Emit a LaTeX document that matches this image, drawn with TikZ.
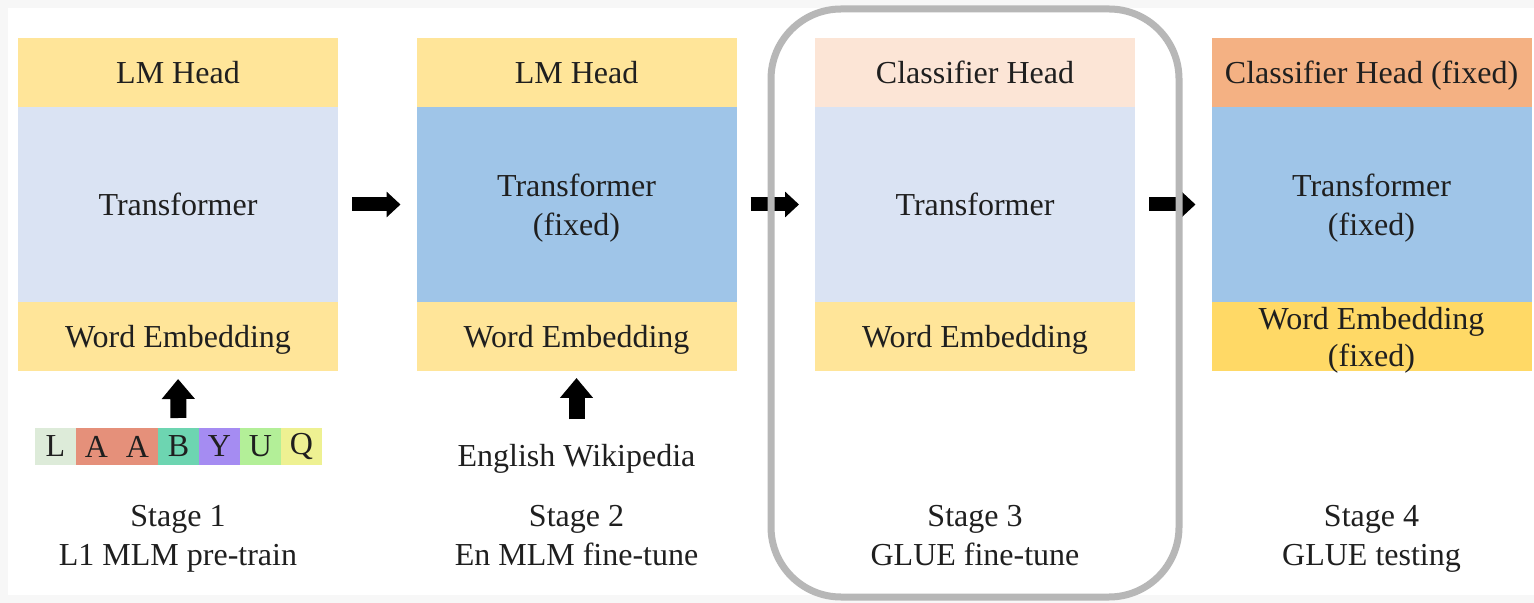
\documentclass[tikz,border=0pt]{standalone}
\usepackage{fontspec}
\setmainfont{Liberation Serif}
\usetikzlibrary{arrows.meta,positioning}
\definecolor{lmyellow}{HTML}{FFE599}
\definecolor{fixyellow}{HTML}{FFD966}
\definecolor{tfblue}{HTML}{DAE3F3}
\definecolor{fixblue}{HTML}{9FC5E8}
\definecolor{clsorange}{HTML}{FCE5D6}
\definecolor{fixorange}{HTML}{F4B183}
\definecolor{framegray}{HTML}{B7B7B7}
\definecolor{tokL}{HTML}{DDEBD9}
\definecolor{tokA}{HTML}{E5907A}
\definecolor{tokB}{HTML}{6DD5B1}
\definecolor{tokY}{HTML}{A58CF2}
\definecolor{tokU}{HTML}{B3EF98}
\definecolor{tokQ}{HTML}{EEF192}
\tikzset{
  txt/.style={font=\fontsize{16}{19.5}\selectfont, text=black!88},
  blk/.style={txt, minimum width=160pt, inner sep=0pt, outer sep=0pt, align=center,
    text depth=0pt},
  headblk/.style={blk, minimum height=34.5pt},
  tfblk/.style={blk, minimum height=97.5pt},
  embblk/.style={blk, minimum height=34.5pt},
  tok/.style={txt, minimum width=20.5pt, minimum height=18.5pt, inner sep=0pt, outer sep=0pt},
  flow/.style={line width=7pt, -{Triangle[length=7pt, width=12.5pt]},
    shorten <=7pt, shorten >=8pt},
  feed/.style={line width=8pt, -{Triangle[length=10pt, width=16pt]}},
  stagelbl/.style={txt, align=center, inner sep=0pt, text depth=0pt},
  stageframe/.style={framegray, line width=3.5pt, rounded corners=35pt},
}
\begin{document}
\begin{tikzpicture}[x=0.5pt, y=-0.5pt]
\useasboundingbox (0,0) rectangle (1534,603);
\fill[black!3] (0,0) rectangle (1534,603);
\fill[white] (8,8) rectangle (1534,595);

% ------------------------------------------------------------------ stage 1
\node[headblk, fill=lmyellow] (h1) at (178,72.5) {LM Head};
\node[tfblk, fill=tfblue, below=0pt of h1] (t1) {Transformer};
\node[embblk, fill=lmyellow, below=0pt of t1] (e1) {Word Embedding};
\node[tok, fill=tokL] (k1) at (55.5,446.5) {L};
\node[tok, fill=tokA, right=0pt of k1] (k2) {A};
\node[tok, fill=tokA, right=0pt of k2] (k3) {A};
\node[tok, fill=tokB, right=0pt of k3] (k4) {B};
\node[tok, fill=tokY, right=0pt of k4] (k5) {Y};
\node[tok, fill=tokU, right=0pt of k5] (k6) {U};
\node[tok, fill=tokQ, right=0pt of k6] (k7) {Q};
\draw[feed, shorten <=5pt, shorten >=4pt] (k4.north) -- (e1.south);
\node[stagelbl] (s1) at (178,535) {Stage 1\\L1 MLM pre-train};

% ------------------------------------------------------------------ stage 2
\node[headblk, fill=lmyellow] (h2) at (576.5,72.5) {LM Head};
\node[tfblk, fill=fixblue, below=0pt of h2] (t2) {Transformer\\(fixed)};
\node[embblk, fill=lmyellow, below=0pt of t2] (e2) {Word Embedding};
\node[stagelbl] (wiki) at (576.5,455) {English Wikipedia};
\draw[feed, shorten <=12pt, shorten >=3.5pt] (wiki.north) -- (e2.south);
\node[stagelbl] (s2) at (576.5,535) {Stage 2\\En MLM fine-tune};

% ------------------------------------------------------------------ stage 3
\node[headblk, fill=clsorange] (h3) at (975,72.5) {Classifier Head};
\node[tfblk, fill=tfblue, below=0pt of h3] (t3) {Transformer};
\node[embblk, fill=lmyellow, below=0pt of t3] (e3) {Word Embedding};
\node[stagelbl] (s3) at (975,535) {Stage 3\\GLUE fine-tune};

% ------------------------------------------------------------------ stage 4
\node[headblk, fill=fixorange] (h4) at (1371.5,72.5) {Classifier Head (fixed)};
\node[tfblk, fill=fixblue, below=0pt of h4] (t4) {Transformer\\(fixed)};
\node[embblk, fill=fixyellow, below=0pt of t4, font=\fontsize{16}{18.5}\selectfont]
  (e4) {Word Embedding\\(fixed)};
\node[stagelbl] (s4) at (1371.5,535) {Stage 4\\GLUE testing};

% stage to stage
\draw[flow] (t1) -- (t2);
\draw[flow] (t2) -- (t3);
\draw[flow] (t3) -- (t4);

% the stage that is trained on GLUE
\draw[stageframe] (771,9) rectangle (1179,597);
\end{tikzpicture}
\end{document}
